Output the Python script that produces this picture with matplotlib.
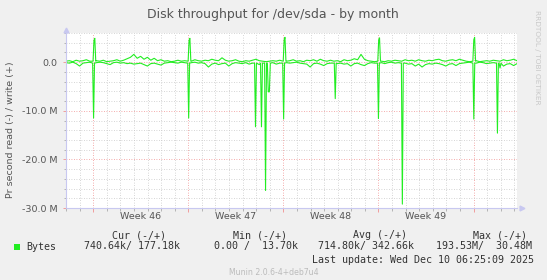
import numpy as np
import matplotlib
matplotlib.use("Agg")
import matplotlib.pyplot as plt
from matplotlib.patches import Rectangle

# ---- data (MB/s), time in days from the left edge of the graph ----
t_end = 33.2
week_starts = [2.0, 9.0, 16.0, 23.0, 30.0]
week_names = ["Week 46", "Week 47", "Week 48", "Week 49"]

write_mb = [
    0.2, 0.3, 0.1, 0.4, 0.2, 0.3, 0.5, 0.2, 0.1, 0.3,
    0.2, 0.4, 0.1, 0.2, 0.3, 0.5, 0.2, 0.4, 0.7, 1.0,
    1.6, 0.8, 1.2, 0.6, 1.0, 0.4, 0.8, 0.3, 0.5, 0.2,
    0.3, 0.1, 0.2, 0.4, 0.2, 0.3, 0.1, 0.2, 0.5, 0.3,
    0.2, 0.4, 0.3, 0.6, 0.4, 0.3, 0.9, 0.4, 0.2, 0.3,
    0.5, 0.2, 0.1, 0.3, 0.2, 0.4, 0.6, 0.3, 0.2, 0.1,
    0.2, 0.3, 0.2, 0.4, 0.1, 0.2, 0.3, 0.5, 0.2, 0.3,
    0.1, 0.4, 0.3, 0.5, 0.2, 0.6, 0.3, 0.2, 0.4, 0.2,
    0.3, 0.1, 0.5, 0.3, 0.4, 0.7, 0.5, 1.6, 0.6, 0.3,
    0.2, 0.1, 0.3, 0.2, 0.1, 0.3, 0.2, 0.4, 0.3, 0.2,
    0.5, 0.3, 0.4, 0.2, 0.5, 0.3, 0.2, 0.4, 0.3, 0.5,
    0.6, 0.3, 0.2, 0.4, 0.5, 0.3, 0.6, 0.4, 0.2, 0.1,
    0.2, 0.3, 0.1, 0.2, 0.3, 0.2, 0.4, 0.3, 0.2, 0.5,
    0.3, 0.4, 0.6, 0.3,
]
read_mb = [
    0.1, 0.2, 0.0, 0.3, 0.8, 0.2, 0.1, 0.0, 0.2, 0.1,
    0.0, 0.1, 0.3, 0.5, 0.1, 0.0, 0.2, 0.1, 0.3, 0.2,
    0.4, 0.3, 0.2, 0.5, 0.8, 0.3, 0.2, 0.4, 0.6, 0.2,
    0.1, 0.0, 0.1, 0.2, 0.0, 0.1, 0.3, 0.1, 0.0, 0.2,
    0.1, 0.3, 1.0, 0.4, 0.2, 0.5, 0.3, 0.2, 0.8, 0.3,
    0.1, 0.2, 0.3, 0.1, 0.4, 0.2, 0.3, 0.5, 0.2, 0.3,
    0.2, 0.1, 0.4, 0.2, 0.0, 0.1, 0.2, 0.1, 0.0, 0.2,
    0.3, 0.4, 1.0, 0.3, 0.2, 0.4, 0.7, 0.3, 0.2, 0.1,
    0.3, 0.2, 0.4, 0.3, 0.8, 0.3, 0.2, 0.5, 0.7, 0.3,
    0.1, 0.2, 0.0, 0.1, 0.3, 0.1, 0.0, 0.2, 0.1, 0.3,
    0.2, 0.4, 0.3, 0.8, 0.4, 1.0, 0.5, 0.3, 0.4, 0.2,
    0.3, 0.5, 0.8, 0.4, 0.3, 0.7, 0.3, 0.2, 0.1, 0.0,
    0.1, 0.2, 0.0, 0.1, 0.3, 0.2, 0.1, 0.4, 0.5, 0.8,
    0.4, 0.3, 0.7, 0.3,
]

# big bursts (2h samples)
write_spike_t = [2.06, 2.12, 9.06, 9.12, 16.06, 16.12, 23.02, 23.08, 30.02, 30.08]
write_spike_v = [4.5, 4.9, 4.5, 4.9, 4.6, 5.1, 4.6, 5.0, 4.6, 5.1]
read_spike_t = [2.03, 9.03, 13.95, 14.39, 14.69, 14.89, 14.97, 16.02, 19.82,
                23.0, 24.76, 30.02, 31.76, 31.95]
read_spike_v = [11.5, 11.5, 13.3, 13.3, 26.4, 6.1, 6.1, 11.7, 7.5,
                11.6, 29.2, 11.7, 14.6, 1.2]

headers = ["Cur (-/+)", "Min (-/+)", "Avg (-/+)", "Max (-/+)"]
values = ["740.64k/ 177.18k", "0.00 /  13.70k", "714.80k/ 342.66k", "193.53M/  30.48M"]


def merge(base, st, sv):
    t = list(np.linspace(0, t_end, len(base)))
    v = list(base)
    # drop base samples sitting right on a burst
    keep = [i for i in range(len(t)) if min(abs(t[i] - s) for s in st) > 0.1]
    t = [t[i] for i in keep] + list(st)
    v = [v[i] for i in keep] + list(sv)
    # shoulders so the bursts stay narrow
    for s in st:
        for d in (-0.07, 0.07):
            if min(abs(s + d - o) for o in st) > 0.05:
                t.append(s + d)
                v.append(0.2)
    order = np.argsort(t)
    return np.array(t)[order], np.array(v)[order]


tw, vw = merge(write_mb, write_spike_t, write_spike_v)
tr, vr = merge(read_mb, read_spike_t, read_spike_v)

W, H = 547, 280
fig = plt.figure(figsize=(W / 100, H / 100), dpi=100, facecolor="#f0f0f0")
ax = fig.add_axes([66 / W, 72 / H, 451 / W, 175 / H], facecolor="white")

green = "#22ee22"
ax.plot(tr, -vr, color=green, lw=0.8)
ax.plot(tw, vw, color=green, lw=0.8)

ax.set_xlim(0, t_end)
ax.set_ylim(-30, 6)

ax.set_xticks(week_starts)
ax.set_xticks(np.arange(0, 34, 1), minor=True)
ax.set_yticks([-30, -20, -10, 0])
ax.set_yticks(np.arange(-30, 7, 2), minor=True)
ax.set_yticklabels(["-30.0 M", "-20.0 M", "-10.0 M", "0.0"])
ax.set_xticklabels([])

ax.grid(which="minor", color="#c8c8c8", lw=0.6, linestyle=(0, (1, 2)))
ax.grid(which="major", color="#f09090", lw=0.6, linestyle=(0, (1, 2)))
ax.set_axisbelow(True)

ax.tick_params(axis="x", which="major", length=3, color="#f09090", width=0.6)
ax.tick_params(axis="x", which="minor", length=2, color="#aaaaaa", width=0.6)
ax.tick_params(axis="y", which="major", length=2, color="#f09090", width=0.6,
               labelsize=6.8, labelcolor="#555555", pad=4)
ax.tick_params(axis="y", which="minor", length=1.5, color="#aaaaaa", width=0.6)

for s in ["top", "right"]:
    ax.spines[s].set_visible(False)
for s in ["left", "bottom"]:
    ax.spines[s].set_color("#c8c8f0")
    ax.spines[s].set_linewidth(0.8)

# axis arrows
ax.plot([1.012], [0], marker=">", color="#c8c8f0", ms=3.5, transform=ax.transAxes, clip_on=False)
ax.plot([0], [1.02], marker="^", color="#c8c8f0", ms=3.5, transform=ax.transAxes, clip_on=False)

for i, name in enumerate(week_names):
    mid = (week_starts[i] + week_starts[i + 1]) / 2
    ax.text(mid, -0.025, name, transform=ax.get_xaxis_transform(), ha="center", va="top",
            fontsize=6.8, color="#555555")

fig.text(273 / W, 1 - 14.5 / H, "Disk throughput for /dev/sda - by month", ha="center", va="center",
         fontsize=9, color="#555555")
fig.text(11 / W, 1 - 130 / H, "Pr second read (-) / write (+)", rotation=90, ha="center", va="center",
         fontsize=6.8, color="#555555")
fig.text(537 / W, 1 - 10 / H, "RRDTOOL / TOBI OETIKER", rotation=270, ha="center", va="top",
         fontsize=5.3, color="#c8c8c8")

mono = "DejaVu Sans Mono"
hx = [111.6, 232.6, 353, 473]
vx = [83.7, 213.5, 318.5, 436]
for x, h in zip(hx, headers):
    fig.text(x / W, 1 - 235 / H, h, family=mono, fontsize=7.2, color="#333333", ha="left", va="center")
for x, v in zip(vx, values):
    fig.text(x / W, 1 - 246.5 / H, v, family=mono, fontsize=7.2, color="#333333", ha="left", va="center")
fig.text(26 / W, 1 - 246.5 / H, "Bytes", family=mono, fontsize=7.2, color="#333333", ha="left", va="center")
fig.add_artist(Rectangle((14 / W, 1 - 249.5 / H), 6 / W, 6 / H, transform=fig.transFigure,
                         facecolor=green, edgecolor="none"))
fig.text(311.5 / W, 1 - 260 / H, "Last update: Wed Dec 10 06:25:09 2025", family=mono, fontsize=7.2,
         color="#333333", ha="left", va="center")
fig.text(274 / W, 1 - 272.5 / H, "Munin 2.0.6-4+deb7u4", fontsize=5.6, color="#bbbbbb",
         ha="center", va="center")

fig.savefig("out.png", dpi=100, facecolor=fig.get_facecolor())
